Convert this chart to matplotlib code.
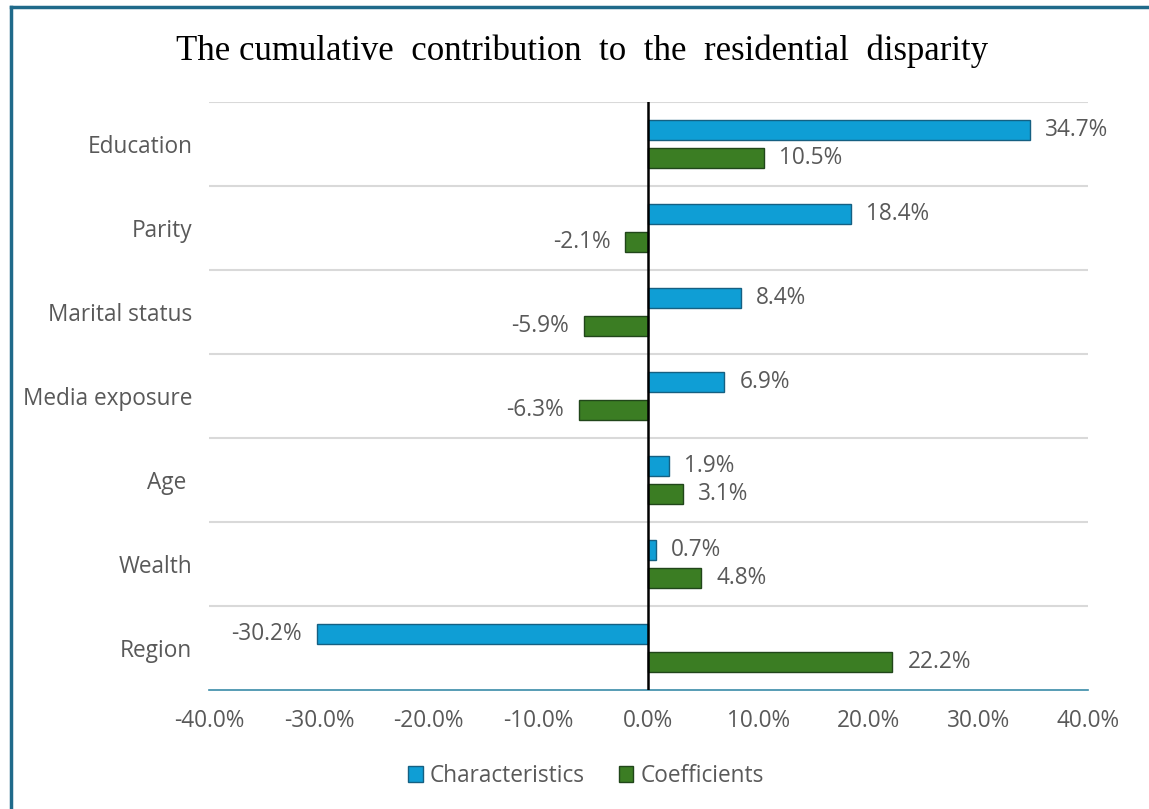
import numpy as np
import matplotlib.pyplot as plt
from matplotlib.lines import Line2D
from matplotlib.ticker import FuncFormatter

# data
categories = ["Education", "Parity", "Marital status", "Media exposure",
              "Age ", "Wealth", "Region"]
characteristics = [34.7, 18.4, 8.4, 6.9, 1.9, 0.7, -30.2]
coefficients = [10.5, -2.1, -5.9, -6.3, 3.1, 4.8, 22.2]

blue = "#0F9ED5"
green = "#3B7D23"
grey_txt = "#595959"
fs = 16.3

plt.rcParams['font.family'] = ["Open Sans", "DejaVu Sans"]

fig = plt.figure(figsize=(11.49, 8.09), dpi=100)
ax = fig.add_axes([0.1819, 0.1471, 0.765, 0.7268])

y = np.arange(len(categories))
off, h = 0.165, 0.245
b1 = ax.barh(y - off, characteristics, height=h, color=blue,
             edgecolor="#156082", linewidth=1, label="Characteristics", zorder=3)
b2 = ax.barh(y + off, coefficients, height=h, color=green,
             edgecolor="#21461A", linewidth=1, label="Coefficients", zorder=3)

for bars, vals in ((b1, characteristics), (b2, coefficients)):
    for rect, v in zip(bars, vals):
        yc = rect.get_y() + rect.get_height() / 2
        ax.annotate("%.1f%%" % v, (v, yc), xytext=(15 if v >= 0 else -15, 0),
                    textcoords="offset pixels",
                    ha="left" if v >= 0 else "right", va="center",
                    fontsize=fs, color=grey_txt)

ax.set_xlim(-40, 40)
ax.set_ylim(len(categories) - 0.5, -0.5)
ax.set_xticks(np.arange(-40, 41, 10))
ax.xaxis.set_major_formatter(FuncFormatter(lambda v, p: "%.1f%%" % v))
ax.set_yticks(y)
ax.set_yticklabels(categories)
ax.tick_params(axis="both", length=0, labelsize=fs, labelcolor=grey_txt)
ax.tick_params(axis="y", pad=12)
ax.tick_params(axis="x", pad=14)

for yy in np.arange(-0.5, len(categories) - 1, 1.0):
    ax.axhline(yy, color="#D9D9D9", lw=1.5, zorder=1)
ax.axvline(0, color="black", lw=1.8, zorder=4)

for s in ("top", "right", "left"):
    ax.spines[s].set_visible(False)
ax.spines["bottom"].set_color("#3A8BA8")
ax.spines["bottom"].set_linewidth(1.2)

fig.text(0.507, 0.937, "The cumulative  contribution  to  the  residential  disparity",
         ha="center", va="center", fontsize=25, family="Liberation Serif", color="black")

fig.legend(handles=[b1, b2], loc="center", bbox_to_anchor=(0.51, 1 - 776 / 809),
           ncol=2, frameon=False, fontsize=fs, labelcolor=grey_txt,
           handlelength=0.65, handleheight=0.65, handletextpad=0.3, columnspacing=1.5)

# figure frame (top and left edges visible in the reference)
fig.add_artist(Line2D([0.0096, 1.0], [0.9914, 0.9914], color="#1F6A8A", lw=2.5,
                      transform=fig.transFigure))
fig.add_artist(Line2D([0.0096, 0.0096], [0.0, 0.9914], color="#1F6A8A", lw=2.5,
                      transform=fig.transFigure))

fig.savefig("out.png", dpi=100)
